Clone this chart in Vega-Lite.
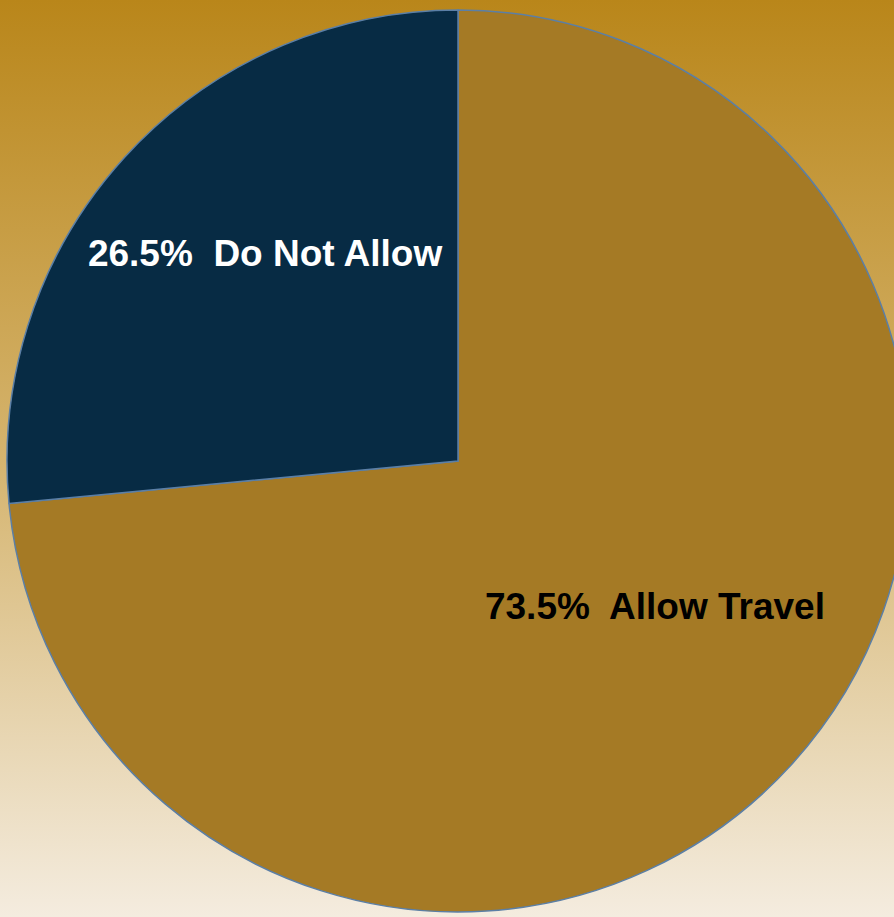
{
  "$schema": "https://vega.github.io/schema/vega-lite/v6.json",
  "autosize": {"type": "none"},
  "width": 894,
  "height": 917,
  "padding": 0,
  "background": "#D5B46E",
  "config": {"view": {"stroke": null}},
  "data": {
    "values": [
      {"category": "Allow Travel", "value": 73.5, "order": 1, "label": "73.5%\u00a0 Allow Travel"},
      {"category": "Do Not Allow", "value": 26.5, "order": 2, "label": "26.5%\u00a0 Do Not Allow"}
    ]
  },
  "layer": [
    {
      "mark": {
        "type": "rect",
        "fill": {
          "x1": 0, "y1": 0, "x2": 0, "y2": 1,
          "gradient": "linear",
          "stops": [
            {"offset": 0, "color": "#B9861A"},
            {"offset": 0.5, "color": "#D5B46E"},
            {"offset": 1, "color": "#F4ECDF"}
          ]
        }
      },
      "encoding": {
        "x": {"value": 0},
        "x2": {"value": "width"},
        "y": {"value": 0},
        "y2": {"value": "height"}
      }
    },
    {
      "mark": {"type": "arc", "radius": 451, "xOffset": 11, "yOffset": 2.5, "stroke": "#5B7FA6", "strokeWidth": 1.5},
      "encoding": {
        "theta": {"field": "value", "type": "quantitative", "stack": true},
        "order": {"field": "order", "type": "ordinal"},
        "color": {
          "field": "category",
          "type": "nominal",
          "scale": {"domain": ["Allow Travel", "Do Not Allow"], "range": ["#A57A25", "#072B44"]},
          "legend": null
        }
      }
    },
    {
      "mark": {"type": "text", "radius": 246, "dx": 0, "dy": -38, "font": "Liberation Sans", "fontWeight": "bold", "fontSize": 37, "fill": "#FFFFFF"},
      "encoding": {
        "theta": {"field": "value", "type": "quantitative", "stack": true},
        "order": {"field": "order", "type": "ordinal"},
        "text": {"field": "label"},
        "opacity": {"condition": {"test": "datum.category === 'Do Not Allow'", "value": 1}, "value": 0}
      }
    },
    {
      "mark": {"type": "text", "radius": 246, "dx": 26, "dy": -16, "font": "Liberation Sans", "fontWeight": "bold", "fontSize": 37, "fill": "#000000"},
      "encoding": {
        "theta": {"field": "value", "type": "quantitative", "stack": true},
        "order": {"field": "order", "type": "ordinal"},
        "text": {"field": "label"},
        "opacity": {"condition": {"test": "datum.category === 'Allow Travel'", "value": 1}, "value": 0}
      }
    }
  ]
}
